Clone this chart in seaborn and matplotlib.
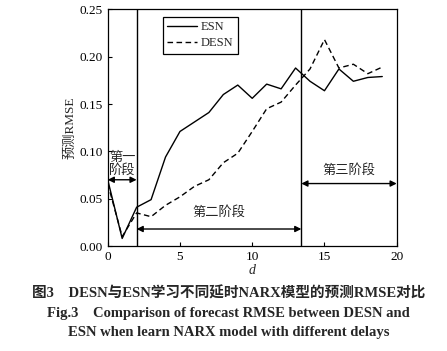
import numpy as np
import pandas as pd
import matplotlib
matplotlib.use("Agg")
import matplotlib.pyplot as plt
import seaborn as sns

# values
delays = list(range(20))
esn_rmse = [0.070, 0.008, 0.041, 0.049, 0.094, 0.121, 0.131, 0.141, 0.160, 0.170,
            0.156, 0.171, 0.166, 0.188, 0.174, 0.164, 0.187, 0.174, 0.178, 0.179]
desn_rmse = [0.066, 0.010, 0.035, 0.031, 0.043, 0.052, 0.063, 0.070, 0.088, 0.098,
             0.121, 0.145, 0.152, 0.170, 0.187, 0.218, 0.188, 0.192, 0.182, 0.189]
stage_bounds = [0, 2, 13.4, 20]
stage_labels = ["第一\n阶段", "第二阶段", "第三阶段"]
stage_arrow_y = [0.070, 0.018, 0.066]
caption = ["图3　DESN与ESN学习不同延时NARX模型的预测RMSE对比",
           "Fig.3　Comparison of forecast RMSE between DESN and",
           "ESN when learn NARX model with different delays"]

df = pd.DataFrame({
    'd': delays * 2,
    'RMSE': esn_rmse + desn_rmse,
    'model': ['ESN'] * len(delays) + ['DESN'] * len(delays),
})

sns.set_style("ticks")
plt.rcParams['font.family'] = ['Liberation Serif', 'Noto Sans CJK SC']
plt.rcParams['font.size'] = 9.5

fig = plt.figure(figsize=(4.47, 3.51), dpi=100)
ax = fig.add_axes([0.241, 0.299, 0.6465, 0.6745])

sns.lineplot(data=df, x='d', y='RMSE', hue='model', style='model',
             palette={'ESN': 'black', 'DESN': 'black'},
             dashes={'ESN': '', 'DESN': (4, 2.5)}, linewidth=1.0, ax=ax)

ax.set_xlim(0, 20)
ax.set_ylim(0, 0.25)
ax.set_xticks([0, 5, 10, 15, 20])
ax.set_yticks([0, 0.05, 0.10, 0.15, 0.20, 0.25])
ax.set_yticklabels(['0.00', '0.05', '0.10', '0.15', '0.20', '0.25'])
ax.tick_params(direction='in', length=3, width=0.8, labelsize=9.5, colors='black')
for s in ax.spines.values():
    s.set_linewidth(0.9)
    s.set_color('black')

ax.set_xlabel('d', fontstyle='italic', labelpad=1, fontsize=10)
ax.set_ylabel('预测RMSE', labelpad=2, fontsize=9.5)

# stage separators
for b in stage_bounds[1:3]:
    ax.axvline(b, color='black', lw=1.0)

# stage arrows and labels
for i, lab in enumerate(stage_labels):
    x0, x1 = stage_bounds[i], stage_bounds[i + 1]
    y = stage_arrow_y[i]
    ax.annotate('', xy=(x0, y), xytext=(x1, y),
                arrowprops=dict(arrowstyle='<|-|>', color='black', lw=1.0,
                                mutation_scale=9, shrinkA=0, shrinkB=0))
ax.text(1.0, 0.073, stage_labels[0], ha='center', va='bottom', fontsize=9.5, linespacing=1.0)
ax.text(7.7, 0.029, stage_labels[1], ha='center', va='bottom', fontsize=9.5)
ax.text(16.7, 0.0735, stage_labels[2], ha='center', va='bottom', fontsize=9.5)

leg = ax.legend(loc='upper left', bbox_to_anchor=(0.19, 0.967), borderaxespad=0,
                fancybox=False, edgecolor='black', framealpha=1, fontsize=9,
                handlelength=2.4, borderpad=0.35, labelspacing=0.3, handletextpad=0.3)
leg.get_frame().set_linewidth(0.9)

ys = [0.165, 0.108, 0.053]
for t, y in zip(caption, ys):
    fig.text(0.512, y, t, ha='center', va='center', fontsize=10.5, fontweight='bold')

fig.savefig('out.png', dpi=100)
